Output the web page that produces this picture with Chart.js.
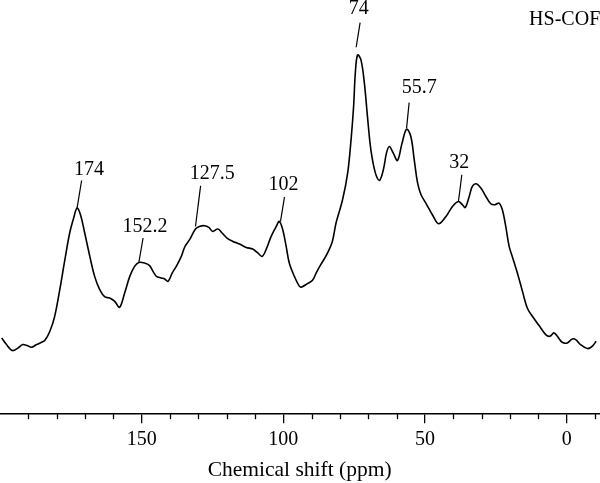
<!DOCTYPE html>
<html>
<head>
<meta charset="utf-8">
<script src="https://cdn.jsdelivr.net/npm/chart.js@4.4.1/dist/chart.umd.min.js"></script>
<style>
  html, body { margin: 0; padding: 0; background: #ffffff; }
  #wrap { width: 600px; height: 483px; position: relative; }
</style>
</head>
<body>
<div id="wrap"><canvas id="c"></canvas></div>
<script>
// Chemical shift (ppm) and intensity (arbitrary units)
const shiftPpm = [199.4,197.7,195.6,193.6,192.0,190.4,188.9,187.1,185.3,184.2,182.4,180.7,178.9,177.1,175.4,174.0,172.8,171.6,170.1,168.3,166.6,164.8,163.0,161.3,159.5,157.8,156.0,154.2,152.5,151.0,149.0,147.2,146.0,144.8,143.1,141.9,140.7,139.2,137.8,136.0,134.8,133.1,131.0,129.6,127.8,126.3,124.9,123.1,121.6,119.9,117.8,115.5,113.1,110.8,109.0,107.5,106.1,104.3,102.5,101.4,100.2,99.0,97.9,96.1,94.3,93.5,91.5,89.7,88.4,86.8,84.7,82.7,81.4,79.1,77.3,76.1,75.2,74.6,73.8,72.6,71.4,70.3,69.1,67.5,66.1,64.7,63.6,62.6,61.2,59.7,58.1,56.5,55.0,53.8,52.6,51.4,49.7,47.4,45.2,42.6,40.3,38.2,36.8,35.8,34.4,33.3,31.9,30.3,28.5,26.8,25.3,23.9,22.7,21.5,20.3,19.2,17.4,15.6,13.9,12.1,9.8,7.4,5.9,4.5,3.3,1.6,-0.2,-2.0,-3.2,-4.9,-7.3,-9.0,-10.4];
const intensity = [76.4,69.7,63.7,66.4,69.7,68.7,67.0,69.7,72.0,73.7,83.0,98.0,124.7,154.7,181.4,196.4,206.4,199.7,181.4,158.0,138.0,124.7,117.4,116.4,113.0,107.0,121.4,138.0,148.0,152.0,151.4,148.7,143.0,138.0,136.4,135.4,133.0,141.4,148.0,158.0,167.4,174.7,185.4,188.0,188.7,187.0,183.0,185.4,181.4,176.4,173.0,170.4,167.0,165.4,161.4,158.0,164.7,178.0,188.0,193.0,184.7,168.0,151.4,138.0,128.0,127.4,130.7,134.0,141.4,149.7,159.7,173.0,191.4,214.7,241.4,274.7,308.0,341.4,359.7,354.7,331.4,298.0,264.7,241.4,234.0,244.7,261.4,268.0,261.4,254.0,271.4,285.4,278.0,254.7,231.4,219.7,211.4,199.7,190.7,198.0,208.0,213.0,209.7,207.0,218.0,228.0,230.7,226.4,218.0,210.7,209.7,211.4,204.7,188.0,168.0,158.0,141.4,123.0,106.4,98.0,89.0,79.7,78.0,81.4,78.0,72.0,71.4,75.4,74.7,69.7,65.7,68.0,73.0];

// Peak annotations (data units): label text, label anchor, leader line top and bottom
const peakText   = ['174','152.2','127.5','102','74','55.7','32'];
const labelPpm   = [168.6,148.8,125.1,99.9,73.4,52.0,37.9];
const labelInt   = [244.7,188.0,240.7,229.7,406.4,326.4,251.4];
const lineTopPpm = [171.2,149.5,129.2,99.6,72.9,55.6,37.0];
const lineTopInt = [234.0,176.4,228.7,217.4,392.0,312.0,239.7];
const lineBotPpm = [172.8,151.0,131.0,101.0,74.3,56.5,38.2];
const lineBotInt = [206.4,152.0,188.0,193.0,367.4,286.4,213.0];

const sampleName = 'HS-COF';
const xTitle = 'Chemical shift (ppm)';
const xMin = -11.5, xMax = 200;
const yMin = 0, yMax = 414.7;
const tickValues = [190,180,170,160,150,140,130,120,110,100,90,80,70,60,50,40,30,20,10,0,-10];

const FONT = '"Liberation Serif", "DejaVu Serif", serif';

const points = shiftPpm.map((v, i) => ({ x: v, y: intensity[i] }));

const annotPlugin = {
  id: 'annot',
  afterDatasetsDraw(chart) {
    const ctx = chart.ctx;
    const xs = chart.scales.x, ys = chart.scales.y;
    ctx.save();
    // minor ticks
    ctx.strokeStyle = '#000';
    ctx.lineWidth = 1.3;
    const yb = chart.chartArea.bottom;
    xs.ticks.forEach(t => {
      if (t.value % 50 !== 0) {
        const px = Math.round(xs.getPixelForValue(t.value)) + 0.5;
        ctx.beginPath();
        ctx.moveTo(px, yb);
        ctx.lineTo(px, yb + 5);
        ctx.stroke();
      }
    });
    // peak labels
    ctx.fillStyle = '#000';
    ctx.font = '20px ' + FONT;
    ctx.textAlign = 'center';
    ctx.textBaseline = 'middle';
    ctx.lineWidth = 1.2;
    peakText.forEach((txt, i) => {
      ctx.fillText(txt, xs.getPixelForValue(labelPpm[i]), ys.getPixelForValue(labelInt[i]));
      ctx.beginPath();
      ctx.moveTo(xs.getPixelForValue(lineTopPpm[i]), ys.getPixelForValue(lineTopInt[i]));
      ctx.lineTo(xs.getPixelForValue(lineBotPpm[i]), ys.getPixelForValue(lineBotInt[i]));
      ctx.stroke();
    });
    // sample name
    ctx.textAlign = 'right';
    ctx.fillText(sampleName, chart.chartArea.right + 1, chart.chartArea.top + 20);
    ctx.restore();
  }
};

new Chart(document.getElementById('c'), {
  type: 'line',
  data: {
    datasets: [{
      data: points,
      borderColor: '#000',
      borderWidth: 1.6,
      pointRadius: 0,
      tension: 0.35,
      fill: false
    }]
  },
  options: {
    responsive: true,
    maintainAspectRatio: false,
    animation: false,
    parsing: true,
    layout: { padding: { left: 0, right: 0, top: 0, bottom: 0 } },
    plugins: { legend: { display: false }, tooltip: { enabled: false } },
    scales: {
      x: {
        type: 'linear',
        min: xMin,
        max: xMax,
        reverse: true,
        afterBuildTicks(scale) {
          scale.ticks = tickValues.map(v => ({ value: v }));
        },
        border: { display: true, color: '#000', width: 1.5 },
        grid: {
          display: true,
          drawOnChartArea: false,
          drawTicks: true,
          tickLength: 9,
          lineWidth: 1.3,
          color: ctx => (ctx.tick && ctx.tick.value % 50 === 0) ? '#000' : 'rgba(0,0,0,0)'
        },
        ticks: {
          autoSkip: false,
          maxRotation: 0,
          padding: 5,
          color: '#000',
          font: { family: FONT, size: 20 },
          callback: v => (v % 50 === 0 ? String(v) : '')
        },
        title: {
          display: true,
          text: xTitle,
          color: '#000',
          font: { family: FONT, size: 21.5 },
          padding: { top: 0, bottom: 0 }
        }
      },
      y: {
        type: 'linear',
        min: yMin,
        max: yMax,
        display: false
      }
    }
  },
  plugins: [annotPlugin]
});
</script>
</body>
</html>
